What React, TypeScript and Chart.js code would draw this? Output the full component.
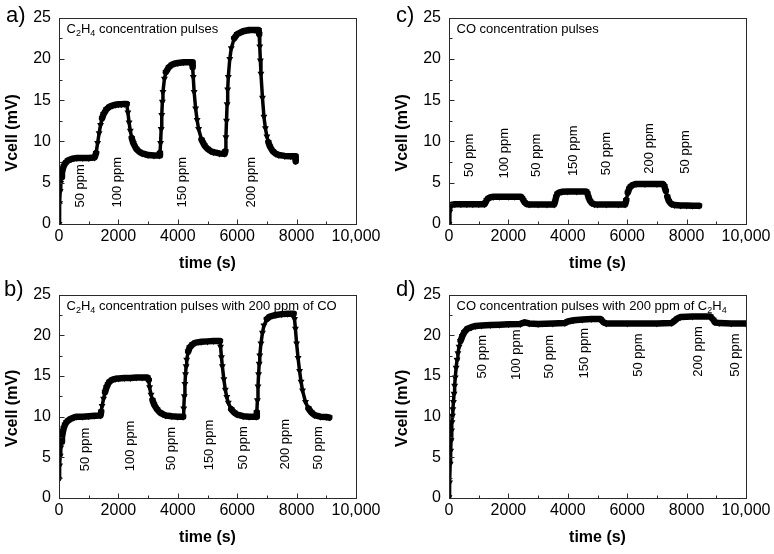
import React, { useEffect, useRef } from 'react';
import { Chart, registerables } from 'chart.js';

Chart.register(...registerables);

const FONT = "'Liberation Sans', Arial, Helvetica, sans-serif";

// ---- shared axes ----
const xTickValues = [0, 2000, 4000, 6000, 8000, 10000];
const xTickLabels = ['0', '2000', '4000', '6000', '8000', '10,000'];
const xMinorTicks = [1000, 3000, 5000, 7000, 9000];
const yTickValues = [0, 5, 10, 15, 20, 25];
const yTickLabels = ['0', '5', '10', '15', '20', '25'];
const yMinorTicks = [2.5, 7.5, 12.5, 17.5, 22.5];
const xTitle = 'time (s)';
const yTitle = 'Vcell (mV)';

// ---- panel a : C2H4 concentration pulses ----
const aSeries: [number, number][] = [
  [0, 0], [20, 2.5], [40, 4.0], [60, 5.0], [80, 5.7], [100, 6.2], [130, 6.7], [160, 7.0], [200, 7.3], [250, 7.5],
  [300, 7.7], [400, 7.85], [500, 7.95], [600, 8.0], [800, 8.0], [1000, 8.0], [1200, 8.05], [1250, 8.6], [1300, 9.8], [1350, 11.0],
  [1400, 12.0], [1450, 12.8], [1500, 13.3], [1600, 13.9], [1700, 14.2], [1800, 14.35], [1900, 14.45], [2000, 14.5], [2100, 14.5], [2200, 14.55],
  [2280, 14.55], [2320, 13.5], [2360, 12.3], [2400, 11.3], [2450, 10.4], [2500, 9.8], [2600, 9.1], [2700, 8.75], [2800, 8.55], [2900, 8.45],
  [3000, 8.35], [3200, 8.3], [3380, 8.3], [3400, 8.6], [3420, 9.8], [3440, 11.5], [3460, 13.2], [3480, 14.8], [3500, 16.0], [3550, 17.6],
  [3600, 18.4], [3700, 19.0], [3800, 19.3], [3900, 19.45], [4000, 19.5], [4200, 19.6], [4400, 19.6], [4480, 19.6], [4500, 19.0], [4520, 17.8],
  [4550, 16.0], [4600, 14.0], [4650, 12.6], [4700, 11.5], [4800, 10.2], [4900, 9.5], [5000, 9.1], [5100, 8.85], [5200, 8.7], [5400, 8.55],
  [5580, 8.5], [5600, 8.8], [5620, 10.5], [5640, 12.5], [5660, 14.5], [5680, 16.3], [5700, 17.8], [5750, 20.0], [5800, 21.3], [5900, 22.5],
  [6000, 23.0], [6200, 23.35], [6400, 23.5], [6600, 23.5], [6720, 23.5], [6740, 23.0], [6760, 21.5], [6780, 19.8], [6800, 18.2], [6850, 15.3],
  [6900, 13.0], [6950, 11.6], [7000, 10.6], [7050, 9.9], [7100, 9.4], [7200, 8.8], [7300, 8.5], [7400, 8.35], [7600, 8.25], [7800, 8.2],
  [7950, 8.2], [7970, 7.6],
];
const aTitle = 'C_2H_4 concentration pulses';
const aLabelText = ['50 ppm', '100 ppm', '150 ppm', '200 ppm'];
const aLabelTime = [731, 1978, 4168, 6494];
const aLabelVcell = [2.0, 2.0, 2.0, 2.0];

// ---- panel b : C2H4 pulses with 200 ppm CO ----
const bSeries: [number, number][] = [
  [0, 2.3], [20, 4.0], [40, 5.2], [60, 6.2], [80, 6.9], [100, 7.5], [130, 8.1], [160, 8.6], [200, 9.0], [250, 9.3],
  [300, 9.5], [400, 9.75], [500, 9.9], [600, 10.0], [800, 10.0], [1000, 10.05], [1200, 10.1], [1400, 10.15], [1420, 10.6], [1450, 11.3],
  [1500, 12.2], [1550, 13.0], [1600, 13.6], [1650, 14.0], [1700, 14.3], [1800, 14.55], [1900, 14.65], [2000, 14.7], [2200, 14.75], [2400, 14.75],
  [2600, 14.8], [2800, 14.8], [2980, 14.8], [3020, 14.5], [3050, 13.6], [3100, 12.7], [3150, 12.0], [3200, 11.5], [3300, 10.9], [3400, 10.5],
  [3500, 10.3], [3600, 10.15], [3800, 10.05], [4000, 10.0], [4180, 10.0], [4200, 11.0], [4220, 12.5], [4240, 14.0], [4260, 15.2], [4280, 16.2],
  [4300, 17.0], [4350, 18.0], [4400, 18.5], [4500, 18.9], [4600, 19.1], [4800, 19.2], [5000, 19.25], [5200, 19.3], [5420, 19.3], [5440, 18.6],
  [5470, 17.3], [5500, 16.2], [5550, 14.6], [5600, 13.3], [5650, 12.4], [5700, 11.7], [5800, 10.9], [5900, 10.5], [6000, 10.25], [6200, 10.05],
  [6400, 10.0], [6640, 10.0], [6660, 10.5], [6680, 12.0], [6700, 13.7], [6720, 15.2], [6740, 16.5], [6760, 17.5], [6800, 19.0], [6850, 20.3],
  [6900, 21.2], [7000, 22.0], [7100, 22.3], [7300, 22.5], [7500, 22.6], [7700, 22.65], [7900, 22.65], [7930, 22.0], [7960, 20.8], [8000, 19.0],
  [8050, 17.2], [8100, 15.6], [8150, 14.3], [8200, 13.2], [8300, 11.8], [8400, 11.0], [8500, 10.5], [8600, 10.2], [8800, 10.0], [9000, 9.95],
  [9100, 9.9],
];
const bTitle = 'C_2H_4 concentration pulses with 200 ppm of CO';
const bLabelText = ['50 ppm', '100 ppm', '50 ppm', '150 ppm', '50 ppm', '200 ppm', '50 ppm'];
const bLabelTime = [900, 2417, 3788, 5079, 6203, 7607, 8730];
const bLabelVcell = [3.3, 3.3, 3.4, 3.4, 3.5, 3.5, 3.5];

// ---- panel c : CO concentration pulses ----
const cSeries: [number, number][] = [
  [0, 0], [30, 1.5], [60, 2.2], [100, 2.35], [200, 2.4], [400, 2.4], [600, 2.4], [800, 2.4], [1000, 2.4], [1200, 2.4],
  [1230, 2.6], [1270, 2.9], [1320, 3.1], [1400, 3.25], [1500, 3.3], [1700, 3.3], [2000, 3.3], [2200, 3.3], [2420, 3.3], [2460, 3.15],
  [2500, 2.9], [2550, 2.6], [2600, 2.45], [2700, 2.35], [3000, 2.35], [3300, 2.35], [3540, 2.35], [3570, 2.7], [3610, 3.3], [3650, 3.65],
  [3700, 3.8], [3800, 3.9], [4000, 3.95], [4300, 3.95], [4620, 3.95], [4660, 3.7], [4700, 3.2], [4750, 2.8], [4800, 2.55], [4900, 2.4],
  [5000, 2.35], [5300, 2.35], [5700, 2.35], [5930, 2.35], [5970, 2.9], [6020, 3.8], [6070, 4.3], [6120, 4.55], [6200, 4.75], [6300, 4.85],
  [6600, 4.85], [7000, 4.85], [7200, 4.85], [7250, 4.6], [7300, 4.0], [7350, 3.3], [7400, 2.8], [7450, 2.55], [7500, 2.4], [7600, 2.3],
  [7800, 2.25], [8000, 2.25], [8200, 2.2], [8420, 2.2],
];
const cTitle = 'CO concentration pulses';
const cLabelText = ['50 ppm', '100 ppm', '50 ppm', '150 ppm', '50 ppm', '200 ppm', '50 ppm'];
const cLabelTime = [698, 1878, 2946, 4180, 5305, 6764, 7944];
const cLabelVcell = [5.7, 5.5, 5.7, 5.8, 5.9, 6.1, 6.1];

// ---- panel d : CO pulses with 200 ppm C2H4 ----
const dSeries: [number, number][] = [
  [0, 0.1], [20, 1.9], [40, 4.2], [55, 5.8], [70, 7.1], [85, 8.3], [100, 9.3], [115, 10.1], [130, 10.9], [150, 11.8],
  [170, 12.8], [190, 13.8], [210, 14.8], [240, 16.0], [270, 17.0], [300, 17.8], [340, 18.6], [390, 19.3], [450, 19.9], [520, 20.4],
  [620, 20.8], [750, 21.0], [900, 21.15], [1100, 21.2], [1400, 21.25], [1700, 21.3], [2000, 21.35], [2400, 21.4], [2550, 21.6], [2700, 21.45],
  [3000, 21.4], [3500, 21.45], [3900, 21.5], [4000, 21.7], [4200, 21.85], [4500, 21.95], [4800, 22.0], [5100, 22.0], [5200, 21.6], [5300, 21.45],
  [6000, 21.45], [7000, 21.45], [7500, 21.5], [7600, 21.8], [7700, 22.1], [7800, 22.25], [8200, 22.3], [8800, 22.3], [8900, 21.9], [8950, 21.6],
  [9100, 21.5], [9500, 21.45], [10000, 21.45],
];
const dTitle = 'CO concentration pulses with 200 ppm of C_2H_4';
const dLabelText = ['50 ppm', '100 ppm', '50 ppm', '150 ppm', '50 ppm', '200 ppm', '50 ppm'];
const dLabelTime = [1126, 2272, 3370, 4550, 6370, 8392, 9629];
const dLabelVcell = [14.7, 14.5, 14.7, 14.7, 14.9, 14.9, 14.9];

type PanelSpec = {
  key: string;
  letter: string;
  series: [number, number][];
  title: string;
  labelText: string[];
  labelTime: number[];
  labelVcell: number[];
  left: number; top: number; w: number; h: number;
  yWidth: number; padTop: number; padRight: number; xHeight: number;
  xTitlePad: number; yTitleX: number; letterX: number; letterY: number;
};

const panels: PanelSpec[] = [
  { key: 'a', letter: 'a)', series: aSeries, title: aTitle, labelText: aLabelText, labelTime: aLabelTime, labelVcell: aLabelVcell,
    left: 0, top: 0, w: 387, h: 277, yWidth: 59, padTop: 16, padRight: 31, xHeight: 53, xTitlePad: 4, yTitleX: 12.5, letterX: 6, letterY: 22 },
  { key: 'c', letter: 'c)', series: cSeries, title: cTitle, labelText: cLabelText, labelTime: cLabelTime, labelVcell: cLabelVcell,
    left: 387, top: 0, w: 387, h: 277, yWidth: 62, padTop: 16, padRight: 28, xHeight: 53, xTitlePad: 4, yTitleX: 15.5, letterX: 9, letterY: 22 },
  { key: 'b', letter: 'b)', series: bSeries, title: bTitle, labelText: bLabelText, labelTime: bLabelTime, labelVcell: bLabelVcell,
    left: 0, top: 277, w: 387, h: 277, yWidth: 59, padTop: 12, padRight: 31, xHeight: 56, xTitlePad: 7, yTitleX: 12.5, letterX: 4, letterY: 19 },
  { key: 'd', letter: 'd)', series: dSeries, title: dTitle, labelText: dLabelText, labelTime: dLabelTime, labelVcell: dLabelVcell,
    left: 387, top: 277, w: 387, h: 277, yWidth: 62, padTop: 12, padRight: 28, xHeight: 56, xTitlePad: 7, yTitleX: 15.5, letterX: 9, letterY: 19 },
];

function drawSubText(ctx: CanvasRenderingContext2D, text: string, x: number, y: number, size: number) {
  const parts = text.split(/_(\d)/);
  let cx = x;
  parts.forEach((part, i) => {
    if (!part) return;
    const sub = i % 2 === 1;
    ctx.font = `${sub ? Math.round(size * 0.68) : size}px ${FONT}`;
    ctx.fillText(part, cx, sub ? y + 3 : y);
    cx += ctx.measureText(part).width;
  });
}

function decorPlugin(p: PanelSpec) {
  return {
    id: 'decor_' + p.key,
    afterDraw(chart: any) {
      const { ctx, chartArea: a, scales } = chart;
      const xs = scales.x, ys = scales.y;
      ctx.save();
      // frame
      ctx.strokeStyle = '#2a2a2a';
      ctx.lineWidth = 1;
      const L = Math.round(a.left) + 0.5, T = Math.round(a.top) + 0.5;
      const R = Math.round(a.right) + 0.5, B = Math.round(a.bottom) + 0.5;
      ctx.strokeRect(L, T, R - L, B - T);
      // inward ticks
      ctx.beginPath();
      xTickValues.forEach(v => { const px = Math.round(xs.getPixelForValue(v)) + 0.5; ctx.moveTo(px, B); ctx.lineTo(px, B - 5); });
      xMinorTicks.forEach(v => { const px = Math.round(xs.getPixelForValue(v)) + 0.5; ctx.moveTo(px, B); ctx.lineTo(px, B - 3); });
      yTickValues.forEach(v => { const py = Math.round(ys.getPixelForValue(v)) + 0.5; ctx.moveTo(L, py); ctx.lineTo(L + 5, py); });
      yMinorTicks.forEach(v => { const py = Math.round(ys.getPixelForValue(v)) + 0.5; ctx.moveTo(L, py); ctx.lineTo(L + 3, py); });
      ctx.stroke();
      ctx.fillStyle = '#000';
      // y title
      ctx.save();
      ctx.translate(p.yTitleX, (a.top + a.bottom) / 2 + 12);
      ctx.rotate(-Math.PI / 2);
      ctx.font = `bold 16px ${FONT}`;
      ctx.textAlign = 'center';
      ctx.textBaseline = 'middle';
      ctx.fillText(yTitle, 0, 0);
      ctx.restore();
      // panel letter
      ctx.font = `22px ${FONT}`;
      ctx.textAlign = 'left';
      ctx.textBaseline = 'alphabetic';
      ctx.fillText(p.letter, p.letterX, p.letterY);
      // inset title
      drawSubText(ctx, p.title, a.left + 7.5, a.top + 15, 13);
      // concentration labels
      ctx.font = `13px ${FONT}`;
      p.labelText.forEach((t, i) => {
        ctx.save();
        ctx.translate(xs.getPixelForValue(p.labelTime[i]), ys.getPixelForValue(p.labelVcell[i]));
        ctx.rotate(-Math.PI / 2);
        ctx.textAlign = 'left';
        ctx.textBaseline = 'middle';
        ctx.fillText(t, 0, 0);
        ctx.restore();
      });
      ctx.restore();
    },
  };
}

function isSteep(c: any) {
  const dx = c.p1.x - c.p0.x;
  const dy = c.p1.y - c.p0.y;
  return Math.abs(dy) > 5 && Math.abs(dy) > 2 * Math.abs(dx);
}

function buildConfig(p: PanelSpec): any {
  const tickFont = { family: FONT, size: 16 };
  return {
    type: 'line',
    data: {
      datasets: [{
        data: p.series.map(([t, v]) => ({ x: t, y: v })),
        borderColor: '#000',
        borderWidth: 6.5,
        borderJoinStyle: 'round',
        borderCapStyle: 'round',
        tension: 0,
        pointStyle: 'triangle',
        rotation: 180,
        pointRadius: 4,
        pointBackgroundColor: '#000',
        pointBorderColor: '#000',
        pointBorderWidth: 0,
        segment: {
          borderWidth: (c: any) => (isSteep(c) ? 3.5 : 6.5),
        },
      }],
    },
    options: {
      animation: false,
      responsive: false,
      maintainAspectRatio: false,
      events: [],
      layout: { padding: { left: 0, top: p.padTop, right: p.padRight, bottom: 0 } },
      plugins: { legend: { display: false }, tooltip: { enabled: false }, title: { display: false } },
      scales: {
        x: {
          type: 'linear', min: 0, max: 10000,
          afterFit: (s: any) => { s.height = p.xHeight; },
          afterBuildTicks: (s: any) => { s.ticks = xTickValues.map(v => ({ value: v })); },
          ticks: { font: tickFont, color: '#000', padding: 3, maxRotation: 0, autoSkip: false,
            callback: (_v: any, i: number) => xTickLabels[i] },
          grid: { display: false, drawTicks: false },
          border: { display: false },
          title: { display: true, text: xTitle, color: '#000', font: { family: FONT, size: 16, weight: 'bold' },
            padding: { top: 0, bottom: p.xTitlePad } },
        },
        y: {
          type: 'linear', min: 0, max: 25,
          afterFit: (s: any) => { s.width = p.yWidth; },
          afterBuildTicks: (s: any) => { s.ticks = yTickValues.map(v => ({ value: v })); },
          ticks: { font: tickFont, color: '#000', padding: 8, autoSkip: false,
            callback: (_v: any, i: number) => yTickLabels[i] },
          grid: { display: false, drawTicks: false },
          border: { display: false },
        },
      },
    },
    plugins: [decorPlugin(p)],
  };
}

function Panel({ spec }: { spec: PanelSpec }) {
  const ref = useRef<HTMLCanvasElement>(null);
  useEffect(() => {
    const chart = new Chart(ref.current as HTMLCanvasElement, buildConfig(spec));
    return () => chart.destroy();
  }, [spec]);
  return (
    <canvas
      ref={ref}
      width={spec.w}
      height={spec.h}
      style={{ position: 'absolute', left: spec.left, top: spec.top, width: spec.w, height: spec.h }}
    />
  );
}

export default function App() {
  return (
    <div style={{ position: 'absolute', left: 0, top: 0, width: 774, height: 554, background: '#fff' }}>
      {panels.map(p => <Panel key={p.key} spec={p} />)}
    </div>
  );
}
